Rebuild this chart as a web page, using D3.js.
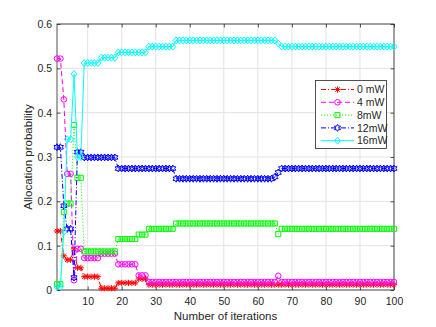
<!DOCTYPE html>
<html>
<head>
<meta charset="utf-8">
<style>
body { margin: 0; background: #fff; }
text { font-family: "Liberation Sans", Arial, sans-serif; fill: #262626; }
</style>
</head>
<body>
<svg width="436" height="327"></svg>
<script src="https://d3js.org/d3.v7.min.js"></script>
<script>

// iteration index 1..100
var iterations = d3.range(1, 101);

var p0mW = [
  0.133,0.133,0.077,0.068,0.068,0.093,0.050,0.050,0.030,0.030,
  0.030,0.030,0.030,0.004,0.004,0.004,0.004,0.004,0.016,0.016,
  0.016,0.016,0.016,0.016,0.025,0.025,0.025,0.012,0.012,0.012,
  0.012,0.012,0.012,0.012,0.012,0.012,0.012,0.012,0.012,0.012,
  0.012,0.012,0.012,0.012,0.012,0.012,0.012,0.012,0.012,0.012,
  0.012,0.012,0.012,0.012,0.012,0.012,0.012,0.012,0.012,0.012,
  0.012,0.012,0.012,0.012,0.012,0.012,0.012,0.012,0.012,0.012,
  0.012,0.012,0.012,0.012,0.012,0.012,0.012,0.012,0.012,0.012,
  0.012,0.012,0.012,0.012,0.012,0.012,0.012,0.012,0.012,0.012,
  0.012,0.012,0.012,0.012,0.012,0.012,0.012,0.012,0.012,0.012
];
var p4mW = [
  0.522,0.522,0.430,0.262,0.262,0.022,0.093,0.093,0.072,0.072,
  0.072,0.072,0.072,0.082,0.082,0.082,0.082,0.082,0.058,0.058,
  0.058,0.058,0.058,0.058,0.033,0.033,0.033,0.018,0.018,0.018,
  0.018,0.018,0.018,0.018,0.018,0.018,0.018,0.018,0.018,0.018,
  0.018,0.018,0.018,0.018,0.018,0.018,0.018,0.018,0.018,0.018,
  0.018,0.018,0.018,0.018,0.018,0.018,0.018,0.018,0.018,0.018,
  0.018,0.018,0.018,0.018,0.018,0.032,0.018,0.018,0.018,0.018,
  0.018,0.018,0.018,0.018,0.018,0.018,0.018,0.018,0.018,0.018,
  0.018,0.018,0.018,0.018,0.018,0.018,0.018,0.018,0.018,0.018,
  0.018,0.018,0.018,0.018,0.018,0.018,0.018,0.018,0.018,0.018
];
var p8mW = [
  0.013,0.013,0.176,0.195,0.195,0.372,0.253,0.253,0.087,0.087,
  0.087,0.087,0.087,0.087,0.087,0.087,0.087,0.087,0.115,0.115,
  0.115,0.115,0.115,0.115,0.125,0.125,0.125,0.138,0.138,0.138,
  0.138,0.138,0.138,0.138,0.138,0.150,0.150,0.150,0.150,0.150,
  0.150,0.150,0.150,0.150,0.150,0.150,0.150,0.150,0.150,0.150,
  0.150,0.150,0.150,0.150,0.150,0.150,0.150,0.150,0.150,0.150,
  0.150,0.150,0.150,0.150,0.150,0.126,0.138,0.138,0.138,0.138,
  0.138,0.138,0.138,0.138,0.138,0.138,0.138,0.138,0.138,0.138,
  0.138,0.138,0.138,0.138,0.138,0.138,0.138,0.138,0.138,0.138,
  0.138,0.138,0.138,0.138,0.138,0.138,0.138,0.138,0.138,0.138
];
var p12mW = [
  0.322,0.322,0.190,0.138,0.138,0.028,0.311,0.311,0.299,0.299,
  0.299,0.299,0.299,0.299,0.299,0.299,0.299,0.299,0.274,0.274,
  0.274,0.274,0.274,0.274,0.274,0.274,0.274,0.274,0.274,0.274,
  0.274,0.274,0.274,0.274,0.274,0.251,0.251,0.251,0.251,0.251,
  0.251,0.251,0.251,0.251,0.251,0.251,0.251,0.251,0.251,0.251,
  0.251,0.251,0.251,0.251,0.251,0.251,0.251,0.251,0.251,0.251,
  0.251,0.251,0.251,0.251,0.255,0.265,0.274,0.274,0.274,0.274,
  0.274,0.274,0.274,0.274,0.274,0.274,0.274,0.274,0.274,0.274,
  0.274,0.274,0.274,0.274,0.274,0.274,0.274,0.274,0.274,0.274,
  0.274,0.274,0.274,0.274,0.274,0.274,0.274,0.274,0.274,0.274
];
var p16mW = [
  0.007,0.007,0.131,0.340,0.340,0.487,0.300,0.300,0.512,0.512,
  0.512,0.512,0.512,0.524,0.524,0.524,0.524,0.524,0.536,0.536,
  0.536,0.536,0.536,0.536,0.536,0.536,0.536,0.549,0.549,0.549,
  0.549,0.549,0.549,0.549,0.549,0.563,0.563,0.563,0.563,0.563,
  0.563,0.563,0.563,0.563,0.563,0.563,0.563,0.563,0.563,0.563,
  0.563,0.563,0.563,0.563,0.563,0.563,0.563,0.563,0.563,0.563,
  0.563,0.563,0.563,0.563,0.563,0.556,0.549,0.549,0.549,0.549,
  0.549,0.549,0.549,0.549,0.549,0.549,0.549,0.549,0.549,0.549,
  0.549,0.549,0.549,0.549,0.549,0.549,0.549,0.549,0.549,0.549,
  0.549,0.549,0.549,0.549,0.549,0.549,0.549,0.549,0.549,0.549
];

var seriesNames = ["0 mW", "4 mW", "8mW", "12mW", "16mW"];
var xTicks = [10, 20, 30, 40, 50, 60, 70, 80, 90, 100];
var yTicks = [0, 0.1, 0.2, 0.3, 0.4, 0.5, 0.6];
var yTickLabels = ["0", "0.1", "0.2", "0.3", "0.4", "0.5", "0.6"];

var series = [
  {name: seriesNames[0], values: p0mW,  color: "#ff0000", dash: "5,2,1,2", marker: "asterisk"},
  {name: seriesNames[1], values: p4mW,  color: "#ff00ff", dash: "5,3",     marker: "circle"},
  {name: seriesNames[2], values: p8mW,  color: "#00ff00", dash: "1,2",     marker: "square"},
  {name: seriesNames[3], values: p12mW, color: "#0000ff", dash: "5,2,1,2", marker: "hexagram"},
  {name: seriesNames[4], values: p16mW, color: "#00ffff", dash: null,      marker: "diamond"}
];

var svg = d3.select("svg"),
    pLeft = 57, pRight = 394, pTop = 24, pBottom = 290;

var x = d3.scaleLinear().domain([1, 100]).range([pLeft, pRight]),
    y = d3.scaleLinear().domain([0, 0.6]).range([pBottom, pTop]);

var axisColor = "#262626";

// grid
var grid = svg.append("g");
grid.selectAll(".gx").data(xTicks).enter().append("line")
    .attr("x1", d => x(d)).attr("x2", d => x(d))
    .attr("y1", pTop).attr("y2", pBottom)
    .attr("stroke", "#e3e3e3").attr("stroke-width", 1);
grid.selectAll(".gy").data(yTicks).enter().append("line")
    .attr("x1", pLeft).attr("x2", pRight)
    .attr("y1", d => y(d)).attr("y2", d => y(d))
    .attr("stroke", "#e3e3e3").attr("stroke-width", 1);

function styleAxis(g) {
  g.select(".domain").remove();
  g.selectAll("line").attr("stroke", axisColor).attr("stroke-width", 0.8);
  g.selectAll("text").attr("fill", axisColor).style("font-size", "10.5px")
    .style("font-family", "'Liberation Sans', Arial, sans-serif");
}

svg.append("g")
    .attr("transform", "translate(0," + pBottom + ")")
    .call(d3.axisBottom(x).tickValues(xTicks).tickSizeInner(-3.5).tickSizeOuter(0).tickPadding(8))
    .call(styleAxis);
svg.append("g")
    .attr("transform", "translate(0," + pTop + ")")
    .call(d3.axisTop(x).tickValues(xTicks).tickSizeInner(-3.5).tickSizeOuter(0).tickFormat(""))
    .call(styleAxis);
svg.append("g")
    .attr("transform", "translate(" + pLeft + ",0)")
    .call(d3.axisLeft(y).tickValues(yTicks).tickSizeInner(-3.5).tickSizeOuter(0).tickPadding(5)
      .tickFormat((d, i) => yTickLabels[i]))
    .call(styleAxis);
svg.append("g")
    .attr("transform", "translate(" + pRight + ",0)")
    .call(d3.axisRight(y).tickValues(yTicks).tickSizeInner(-3.5).tickSizeOuter(0).tickFormat(""))
    .call(styleAxis);

svg.append("rect")
    .attr("x", pLeft).attr("y", pTop)
    .attr("width", pRight - pLeft).attr("height", pBottom - pTop)
    .attr("fill", "none").attr("stroke", axisColor).attr("stroke-width", 0.8);

// markers
function markerPath(type, s) {
  if (type === "circle")
    return "M" + (-s) + ",0A" + s + "," + s + " 0 1,0 " + s + ",0A" + s + "," + s + " 0 1,0 " + (-s) + ",0Z";
  if (type === "square") {
    var q = s * 0.9;
    return "M" + (-q) + "," + (-q) + "H" + q + "V" + q + "H" + (-q) + "Z";
  }
  if (type === "diamond") {
    var w = s * 1.05, h = s * 1.25;
    return "M0," + (-h) + "L" + w + ",0L0," + h + "L" + (-w) + ",0Z";
  }
  if (type === "asterisk") {
    var a = s * 1.1, b = a * 0.7071;
    return "M" + (-a) + ",0H" + a + "M0," + (-a) + "V" + a +
      "M" + (-b) + "," + (-b) + "L" + b + "," + b + "M" + (-b) + "," + b + "L" + b + "," + (-b);
  }
  if (type === "hexagram") {
    var ro = s * 1.25, ri = ro / Math.sqrt(3), p = "";
    for (var k = 0; k < 12; k++) {
      var r = k % 2 ? ri : ro, ang = -Math.PI / 2 + k * Math.PI / 6;
      p += (k ? "L" : "M") + (r * Math.cos(ang)).toFixed(2) + "," + (r * Math.sin(ang)).toFixed(2);
    }
    return p + "Z";
  }
}

var line = d3.line()
    .x((d, i) => x(iterations[i]))
    .y(d => y(d));

series.forEach(function(s) {
  var g = svg.append("g");
  g.append("path")
      .attr("d", line(s.values))
      .attr("fill", "none")
      .attr("stroke", s.color)
      .attr("stroke-width", 1)
      .attr("stroke-dasharray", s.dash);
  g.selectAll("path.m").data(s.values).enter().append("path")
      .attr("class", "m")
      .attr("transform", (d, i) => "translate(" + x(iterations[i]) + "," + y(d) + ")")
      .attr("d", markerPath(s.marker, 2.8))
      .attr("fill", "none")
      .attr("stroke", s.color)
      .attr("stroke-width", 1);
});

// legend
var lg = svg.append("g");
lg.append("rect")
    .attr("x", 315.5).attr("y", 80.5).attr("width", 71).attr("height", 68)
    .attr("fill", "#fff").attr("stroke", axisColor).attr("stroke-width", 0.8);
series.forEach(function(s, k) {
  var ly = 89.5 + k * 12.8;
  lg.append("line")
      .attr("x1", 321).attr("x2", 354).attr("y1", ly).attr("y2", ly)
      .attr("stroke", s.color).attr("stroke-width", 1)
      .attr("stroke-dasharray", s.dash);
  lg.append("path")
      .attr("transform", "translate(337.5," + ly + ")")
      .attr("d", markerPath(s.marker, 2.8))
      .attr("fill", "none").attr("stroke", s.color).attr("stroke-width", 1);
  lg.append("text")
      .attr("x", 357).attr("y", ly).attr("dy", "0.35em")
      .style("font-size", "10.5px")
      .text(s.name);
});

// axis labels
svg.append("text")
    .attr("x", (pLeft + pRight) / 2).attr("y", 320)
    .attr("text-anchor", "middle")
    .style("font-size", "11.5px")
    .text("Number of iterations");
svg.append("text")
    .attr("transform", "translate(32," + (pTop + pBottom) / 2 + ") rotate(-90)")
    .attr("text-anchor", "middle")
    .style("font-size", "11.5px")
    .text("Allocation probability");

</script>
</body>
</html>
